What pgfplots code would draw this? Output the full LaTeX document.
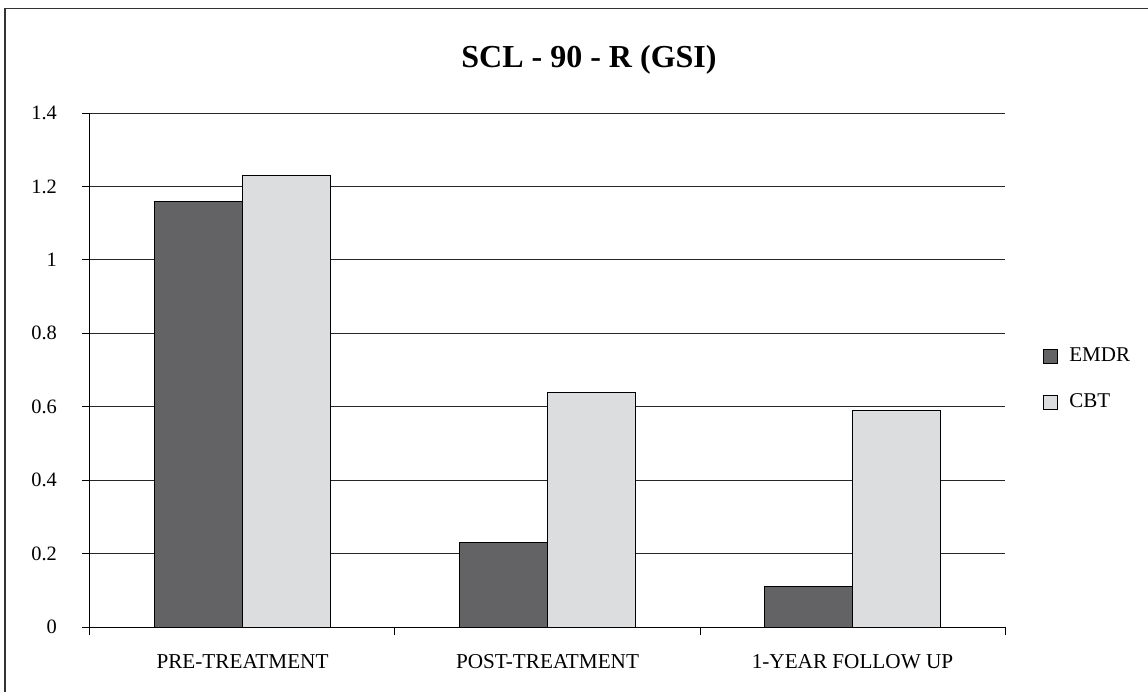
\documentclass[border=0pt]{standalone}
\usepackage{fontspec}
\setmainfont{Liberation Serif}
\usepackage{pgfplots}
\pgfplotsset{compat=1.18}
\definecolor{emdr}{RGB}{99,99,101}
\definecolor{cbt}{RGB}{220,221,223}
\begin{document}
\begin{tikzpicture}
\useasboundingbox (0,0) rectangle (574pt,346pt);
\draw[line width=0.8pt, black!80] (2.5pt,0) -- (2.5pt,341.75pt) -- (574pt,341.75pt);
\node[font=\fontsize{16}{19}\selectfont\bfseries] at (294.5pt,316pt) {SCL - 90 - R (GSI)};
\begin{axis}[
  at={(45pt,32.5pt)}, anchor=south west,
  scale only axis, width=457.5pt, height=257pt,
  xmin=-0.5, xmax=2.5, ymin=0, ymax=1.4,
  ytick={0,0.2,0.4,0.6,0.8,1,1.2,1.4},
  xtick={-0.5,0.5,1.5,2.5},
  x tick label as interval,
  xticklabels={PRE-TREATMENT,POST-TREATMENT,1-YEAR FOLLOW UP},
  axis x line*=bottom, axis y line*=left,
  axis line style={line width=0.5pt, black},
  ymajorgrids, grid style={line width=0.5pt, black!85},
  tick align=outside, major tick length=4pt,
  tick style={line width=0.5pt, black},
  /pgf/number format/assume math mode=true,
  yticklabel style={font=\fontsize{10.2}{12}\selectfont, xshift=-9pt},
  xticklabel style={font=\fontsize{10.6}{12}\selectfont, yshift=-6pt},
  ybar=0pt, bar width=44pt,
  legend style={draw=none, at={(1.0415,0.4815)}, anchor=west, inner sep=0pt,
    font=\fontsize{10.5}{12}\selectfont, row sep=14.5pt,
    nodes={inner sep=0pt, anchor=west},
    /tikz/every odd column/.append style={column sep=5.5pt}},
  legend image code/.code={\draw[#1] (0pt,-3.5pt) rectangle (7pt,3.5pt);},
  legend cell align=left,
]
\addplot[fill=emdr, draw=black, line width=0.5pt] coordinates {(0,1.16) (1,0.23) (2,0.11)};
\addplot[fill=cbt, draw=black, line width=0.5pt] coordinates {(0,1.23) (1,0.64) (2,0.59)};
\legend{EMDR,CBT}
\end{axis}
\end{tikzpicture}
\end{document}
